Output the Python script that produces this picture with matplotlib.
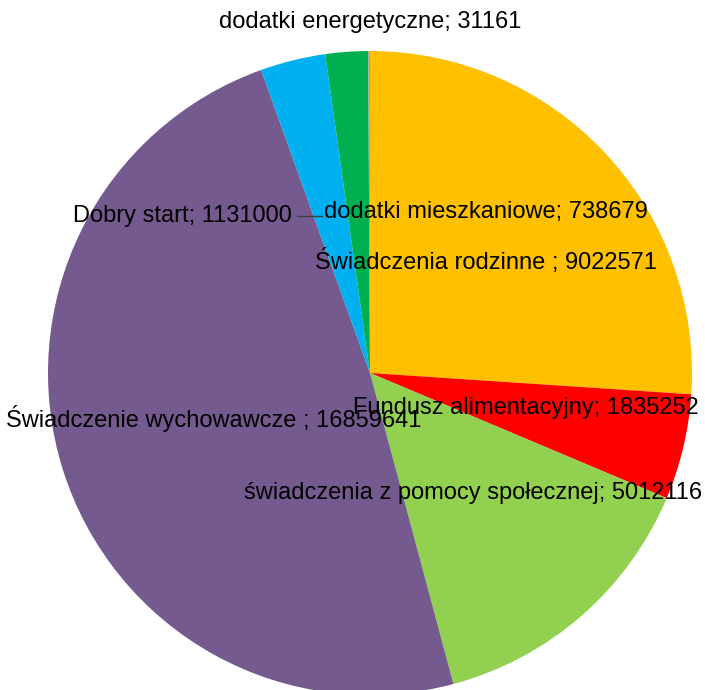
import matplotlib

matplotlib.use("Agg")
import matplotlib.pyplot as plt

# ---------------------------------------------------------------------------
# Data (clockwise from 12 o'clock)
# ---------------------------------------------------------------------------
CATEGORIES = [
    "Świadczenia rodzinne ",
    "Fundusz alimentacyjny",
    "świadczenia z pomocy społecznej",
    "Świadczenie wychowawcze ",
    "Dobry start",
    "dodatki mieszkaniowe",
    "dodatki energetyczne",
]
VALUES = [9022571, 1835252, 5012116, 16859641, 1131000, 738679, 31161]
COLORS = ["#FFC000", "#FF0000", "#92D050", "#745A8E", "#00B0F0", "#00B050", "#A5A5A5"]

# label centres in data units (pie radius = 1)
LABEL_POS = [
    (0.36, 0.345),
    (0.484, -0.109),
    (0.32, -0.373),
    (-0.484, -0.14),
    (-0.584, 0.488),
    (0.36, 0.50),
    (0.0, 1.09),
]

plt.rcParams["font.family"] = ["Liberation Sans Narrow", "Liberation Sans", "DejaVu Sans"]

fig = plt.figure(figsize=(7.05, 6.9), dpi=100)
W, H = 705, 690
cx, cy, r = 370, 373, 322
ax = fig.add_axes([(cx - r) / W, (H - cy - r) / H, 2 * r / W, 2 * r / H])

ax.pie(
    VALUES,
    colors=COLORS,
    startangle=90,
    counterclock=False,
    radius=1.0,
    wedgeprops=dict(linewidth=0),
)
ax.set_xlim(-1, 1)
ax.set_ylim(-1, 1)
ax.set_axis_off()

for name, val, (x, y) in zip(CATEGORIES, VALUES, LABEL_POS):
    ax.text(x, y, f"{name}; {val}", ha="center", va="center", fontsize=17,
            clip_on=False)

# leader line for "Dobry start"
ax.plot([(297 - cx) / r, (322 - cx) / r], [(cy - 216) / r] * 2,
        color="#404040", linewidth=1.0, clip_on=False)

fig.savefig("out.png", dpi=100)
